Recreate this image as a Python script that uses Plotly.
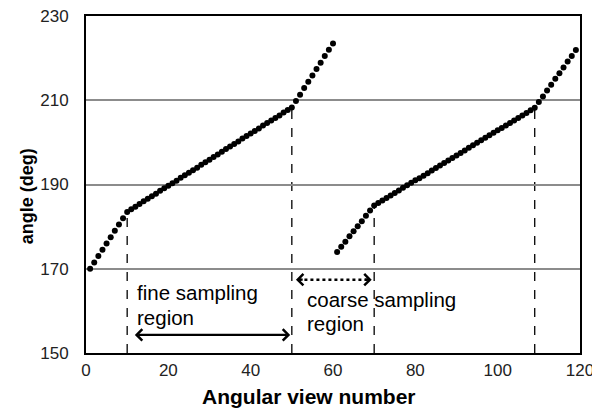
import plotly.graph_objects as go

# ---- data ----
view1 = list(range(1, 61))
angle1 = [170.0, 171.5, 173.0, 174.5, 176.0, 177.5, 179.0, 180.5, 182.0, 183.5,
          184.1, 184.7, 185.4, 186.0, 186.6, 187.2, 187.8, 188.5, 189.1, 189.7,
          190.3, 190.9, 191.6, 192.2, 192.8, 193.4, 194.0, 194.7, 195.3, 195.9,
          196.5, 197.1, 197.8, 198.4, 199.0, 199.6, 200.2, 200.9, 201.5, 202.1,
          202.7, 203.3, 204.0, 204.6, 205.2, 205.8, 206.4, 207.1, 207.7, 208.3,
          209.8, 211.3, 212.9, 214.4, 215.9, 217.4, 218.9, 220.5, 222.0, 223.5]
view2 = list(range(61, 120))
angle2 = [174.0, 175.2, 176.4, 177.7, 178.9, 180.1, 181.3, 182.6, 183.8, 185.0,
          185.6, 186.2, 186.8, 187.4, 188.0, 188.6, 189.2, 189.8, 190.4, 191.0,
          191.5, 192.1, 192.7, 193.3, 193.9, 194.5, 195.1, 195.7, 196.3, 196.9,
          197.5, 198.1, 198.7, 199.3, 199.9, 200.5, 201.1, 201.7, 202.3, 202.9,
          203.4, 204.0, 204.6, 205.2, 205.8, 206.4, 207.0, 207.6, 208.2,
          209.6, 210.9, 212.3, 213.7, 215.1, 216.4, 217.8, 219.2, 220.5, 221.9]
knee_views = [10, 50, 70, 109]
x_ticks = [0, 20, 40, 60, 80, 100, 120]
y_ticks = [150, 170, 190, 210, 230]

FONT = "Liberation Sans, Arial, sans-serif"

fig = go.Figure()
for vx, ay in ((view1, angle1), (view2, angle2)):
    fig.add_trace(go.Scatter(x=vx, y=ay, mode="markers",
                             marker=dict(color="black", size=6),
                             showlegend=False, hoverinfo="skip", cliponaxis=False))

all_v = view1 + view2
all_a = angle1 + angle2
for kv in knee_views:
    ky = all_a[all_v.index(kv)]
    fig.add_shape(type="line", xref="x", yref="y", x0=kv, x1=kv, y0=150, y1=ky,
                  line=dict(color="black", width=1.3, dash="dash"), layer="below")

# fine sampling double arrow (solid)
fig.add_annotation(x=49.6, y=154.3, ax=11.5, ay=154.3, xref="x", yref="y",
                   axref="x", ayref="y", text="", showarrow=True,
                   arrowhead=4, startarrowhead=4, arrowside="end+start",
                   arrowwidth=2.2, arrowsize=1, startarrowsize=1, arrowcolor="black")
# coarse sampling double arrow (dotted)
fig.add_shape(type="line", xref="x", yref="y", x0=51.6, x1=68.8, y0=167.4, y1=167.4,
              line=dict(color="black", width=2.5, dash="dot"))
fig.add_annotation(x=51.0, y=167.4, ax=53.0, ay=167.4, xref="x", yref="y",
                   axref="x", ayref="y", text="", showarrow=True, arrowhead=4,
                   arrowwidth=2.2, arrowcolor="black")
fig.add_annotation(x=69.4, y=167.4, ax=67.4, ay=167.4, xref="x", yref="y",
                   axref="x", ayref="y", text="", showarrow=True, arrowhead=4,
                   arrowwidth=2.2, arrowcolor="black")

TXT = dict(family=FONT, size=20.5, color="black")
fig.add_annotation(x=12.0, y=164.3, xref="x", yref="y", text="fine sampling",
                   showarrow=False, xanchor="left", yanchor="middle", font=TXT)
fig.add_annotation(x=12.0, y=158.5, xref="x", yref="y", text="region",
                   showarrow=False, xanchor="left", yanchor="middle", font=TXT)
fig.add_annotation(x=53.2, y=162.6, xref="x", yref="y", text="coarse sampling",
                   showarrow=False, xanchor="left", yanchor="middle", font=TXT)
fig.add_annotation(x=53.2, y=156.9, xref="x", yref="y", text="region",
                   showarrow=False, xanchor="left", yanchor="middle", font=TXT)

# axis titles
fig.add_annotation(x=0.452, y=-0.13, xref="paper", yref="paper",
                   text="<b>Angular view number</b>", showarrow=False,
                   xanchor="center", yanchor="middle",
                   font=dict(family=FONT, size=21, color="black"))
fig.add_annotation(x=-0.12, y=0.464, xref="paper", yref="paper",
                   text="<b>angle (deg)</b>", showarrow=False, textangle=-90,
                   xanchor="center", yanchor="middle",
                   font=dict(family=FONT, size=18, color="black"))

# the page body shifts the figure 8px right and down
fig.update_layout(
    width=592, height=406,
    margin=dict(l=78, r=20, t=8, b=61, autoexpand=False),
    paper_bgcolor="white", plot_bgcolor="white",
    font=dict(family=FONT, size=17, color="#222"),
    xaxis=dict(range=[0, 120], tickvals=x_ticks, showgrid=False, zeroline=False,
               showline=True, mirror=True, linecolor="black", linewidth=2,
               ticks="", ticklabelstandoff=1, automargin=False,
               ticklabeloverflow="allow"),
    yaxis=dict(range=[150, 230], tickvals=y_ticks, showgrid=True,
               gridcolor="#8c8c8c", gridwidth=1.5, zeroline=False,
               showline=True, mirror=True, linecolor="black", linewidth=2,
               ticks="", ticklabelstandoff=12, automargin=False,
               ticklabeloverflow="allow"),
)

fig.write_html("out.html")
